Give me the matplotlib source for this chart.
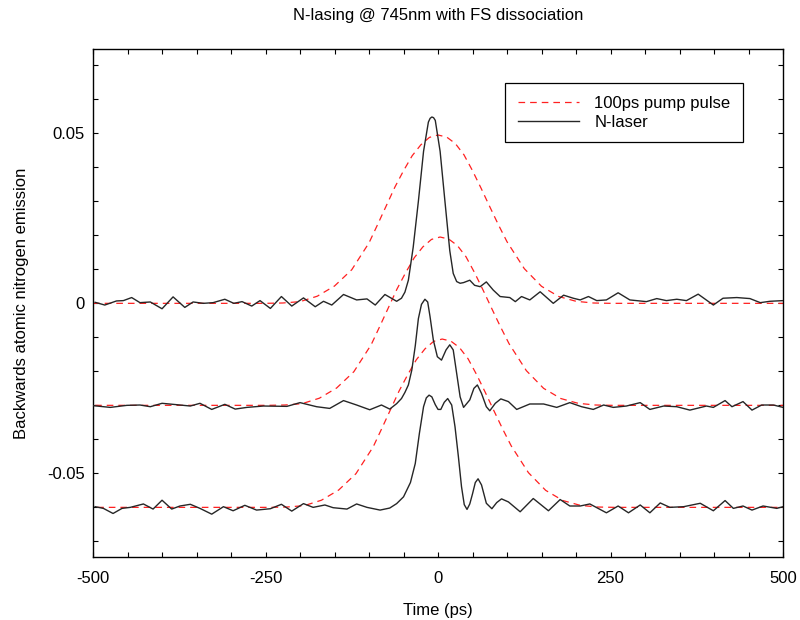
import matplotlib
matplotlib.use("Agg")
import matplotlib.pyplot as plt
from matplotlib.ticker import MultipleLocator, FixedLocator

plt.rcParams['font.family'] = ['Liberation Sans', 'DejaVu Sans']

# pump pulse shape (height above its baseline)
pump_t = [-500, -250, -225, -200, -175, -150, -125, -100, -87.5, -75, -62.5, -50, -37.5,
          -25, -12.5, 0, 12.5, 25, 37.5, 50, 62.5, 75, 87.5, 100, 125, 150, 175, 200,
          225, 250, 500]
pump_shape = [0, 0, 0.0001, 0.0005, 0.0021, 0.0051, 0.0099, 0.0178, 0.0232, 0.0287, 0.0342,
              0.0390, 0.0434, 0.0466, 0.0488, 0.0495, 0.0489, 0.0470, 0.0437, 0.0390, 0.0338,
              0.0284, 0.0231, 0.0181, 0.0102, 0.0050, 0.0020, 0.0006, 0.0001, 0, 0]
pump_base = [0.0, -0.03, -0.06]
pump_shift = [0, 3, 6]

laser1_t = [-497, -483, -466, -456, -444, -432, -417, -400, -384, -367, -355, -340, -326,
            -309, -296, -284, -270, -258, -243, -227, -212, -195, -178, -166, -154, -137,
            -118, -103, -91, -77, -60, -53, -48, -43, -36, -28.5, -21, -14, -11.5, -9, -6.5,
            -4, 3, 10, 17, 22, 27, 32, 37, 46, 53, 61, 70, 80, 90, 104, 112, 121, 133, 148,
            167, 182, 196, 206, 218, 230, 244, 261, 278, 302, 317, 331, 346, 360, 377, 399,
            413, 433, 452, 467, 481, 500]
laser1_y = [0.0003, -0.0005, 0.0007, 0.0008, 0.0017, 0.0002, 0.0004, -0.0016, 0.0019, -0.0012,
            0.0004, 0.0, 0.0002, 0.0012, 0.0, 0.0005, -0.0008, 0.0008, -0.0015, 0.0020,
            -0.0008, 0.0016, -0.0010, 0.0006, -0.0005, 0.0026, 0.0010, 0.0013, -0.0005,
            0.0026, 0.0006, 0.0015, 0.0033, 0.0068, 0.0165, 0.0300, 0.0447, 0.0533, 0.0544,
            0.0548, 0.0546, 0.0538, 0.0447, 0.0300, 0.0155, 0.0088, 0.0064, 0.0059, 0.0061,
            0.0068, 0.0053, 0.0049, 0.0063, 0.0039, 0.0020, 0.0017, 0.0005, 0.0020, 0.0010,
            0.0034, 0.0, 0.0024, 0.0015, 0.0010, 0.0020, 0.0008, 0.0010, 0.0031, 0.0010,
            0.0005, 0.0014, 0.0008, 0.0012, 0.0008, 0.0027, -0.0005, 0.0015, 0.0017, 0.0014,
            0.0002, 0.0006, 0.0008]

laser2_t = [-499.5, -475, -451, -432, -417, -400, -379, -359, -345, -328, -309, -294, -277,
            -253, -219, -200, -176, -157, -137, -118, -99, -82, -70, -60, -53, -48, -43, -38,
            -33, -28.5, -24, -19, -15, -11.6, -6.8, -1, 5, 11.6, 17, 22, 27, 32, 37, 46, 52,
            57, 63, 70, 75, 83, 91, 102, 114, 133, 153, 172, 191, 208, 225, 240, 254, 273,
            293, 307, 327, 346, 365, 389, 399, 416, 426, 442, 455, 469, 486, 500]
laser2_y = [-0.0301, -0.0306, -0.0300, -0.0299, -0.0304, -0.0294, -0.0298, -0.0302, -0.0294,
            -0.0312, -0.0297, -0.0311, -0.0306, -0.0302, -0.0303, -0.0292, -0.0304, -0.0309,
            -0.0286, -0.0299, -0.0313, -0.0299, -0.0311, -0.0295, -0.0280, -0.0262, -0.0240,
            -0.0196, -0.0125, -0.0045, -0.0003, 0.0012, 0.0004, -0.0039, -0.0108, -0.0157,
            -0.0167, -0.0137, -0.0122, -0.0137, -0.0206, -0.0275, -0.0306, -0.0284, -0.0250,
            -0.0240, -0.0265, -0.0304, -0.0316, -0.0294, -0.0281, -0.0289, -0.0312, -0.0296,
            -0.0296, -0.0306, -0.0292, -0.0304, -0.0312, -0.0299, -0.0306, -0.0302, -0.0292,
            -0.0312, -0.0302, -0.0304, -0.0314, -0.0302, -0.0306, -0.0286, -0.0304, -0.0289,
            -0.0314, -0.0299, -0.0299, -0.0306]

laser3_t = [-497, -485, -471, -458, -446, -427, -413, -400, -386, -374, -359, -345, -328,
            -311, -297, -280, -263, -243, -227, -212, -195, -181, -164, -152, -132, -118,
            -103, -84, -70, -60, -50, -40, -33, -27, -21, -17, -13, -9, -4, 0, 4, 9, 14,
            19.8, 24.6, 29.5, 34, 38, 42, 46, 50, 54, 58, 63, 70, 78, 85, 92, 102, 119, 138,
            160, 177, 191, 206, 220, 244, 261, 276, 293, 307, 322, 336, 356, 380, 399, 416,
            428, 442, 455, 471, 491, 500]
laser3_y = [-0.0598, -0.0603, -0.0618, -0.0603, -0.0600, -0.0590, -0.0605, -0.0579, -0.0605,
            -0.0596, -0.0591, -0.0603, -0.0620, -0.0598, -0.0610, -0.0594, -0.0608, -0.0604,
            -0.0591, -0.0611, -0.0589, -0.0600, -0.0593, -0.0601, -0.0605, -0.0590, -0.0600,
            -0.0608, -0.0602, -0.0589, -0.0569, -0.0527, -0.0471, -0.0382, -0.0304, -0.0278,
            -0.0270, -0.0275, -0.0298, -0.0312, -0.0312, -0.0291, -0.0280, -0.0299, -0.0363,
            -0.0451, -0.0539, -0.0592, -0.0606, -0.0590, -0.0560, -0.0527, -0.0516, -0.0534,
            -0.0588, -0.0604, -0.0586, -0.0575, -0.0584, -0.0613, -0.0574, -0.0610, -0.0577,
            -0.0596, -0.0596, -0.0590, -0.0616, -0.0596, -0.0616, -0.0593, -0.0616, -0.0587,
            -0.0600, -0.0598, -0.0588, -0.0610, -0.0580, -0.0603, -0.0596, -0.0608, -0.0596,
            -0.0603, -0.0598]

x_ticks = [-500, -250, 0, 250, 500]
y_ticks = [-0.05, 0, 0.05]
y_tick_labels = ['-0.05', '0', '0.05']

fig = plt.figure(figsize=(8, 6.2), dpi=100)
ax = fig.add_axes([0.1163, 0.1016, 0.8625, 0.8194])

laser_t = [laser1_t, laser2_t, laser3_t]
laser_y = [laser1_y, laser2_y, laser3_y]

for i, base in enumerate(pump_base):
    tt = [t + pump_shift[i] for t in pump_t]
    yy = [base + v for v in pump_shape]
    ax.plot(tt, yy, color='#ff2020', lw=0.9, dashes=(5.3, 4.0),
            label='100ps pump pulse' if i == 0 else None, zorder=2)

for i in range(3):
    ax.plot(laser_t[i], laser_y[i], color='#262626', lw=1.0,
            label='N-laser' if i == 0 else None, zorder=3)

ax.set_xlim(-500, 500)
ax.set_ylim(-0.0746, 0.0748)
ax.xaxis.set_major_locator(FixedLocator(x_ticks))
ax.xaxis.set_minor_locator(MultipleLocator(50))
ax.yaxis.set_major_locator(FixedLocator(y_ticks))
ax.yaxis.set_minor_locator(MultipleLocator(0.01))
ax.set_yticklabels(y_tick_labels)
ax.set_xticklabels([str(v) for v in x_ticks])
ax.tick_params(which='both', direction='in', top=True, right=True, length=3.5,
               width=0.8, labelsize=12)
ax.tick_params(axis='x', pad=10)
ax.tick_params(axis='y', pad=6)
for s in ax.spines.values():
    s.set_linewidth(1.0)

ax.set_xlabel('Time (ps)', fontsize=12, labelpad=12)
ax.set_ylabel('Backwards atomic nitrogen emission', fontsize=12, labelpad=13)
ax.set_title('N-lasing @ 745nm with FS dissociation', fontsize=12, pad=21)

leg = ax.legend(loc='upper right', bbox_to_anchor=(0.942, 0.933), borderaxespad=0,
                fontsize=12, frameon=True, fancybox=False, edgecolor='black',
                framealpha=1, borderpad=0.75, labelspacing=0.25, handlelength=3.7,
                handletextpad=0.9)
leg.get_frame().set_linewidth(0.9)

fig.savefig('out.png', dpi=100)
